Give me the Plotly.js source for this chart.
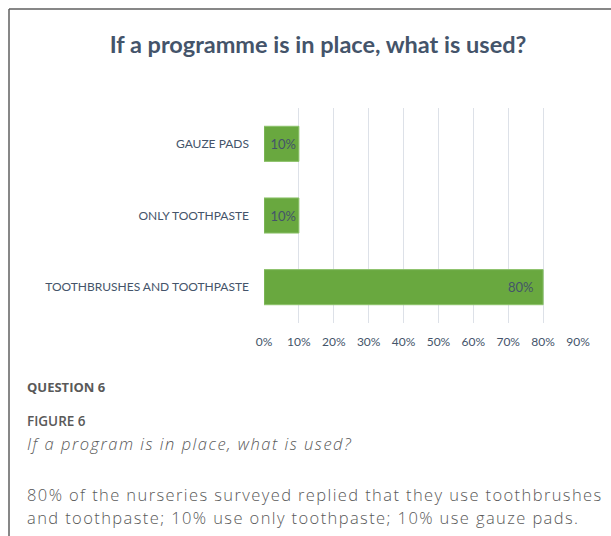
<!DOCTYPE html>
<html>
<head>
<meta charset="utf-8">
<script src="https://cdn.plot.ly/plotly-3.0.1.min.js"></script>
<style>
html,body{margin:0;padding:0;background:#fff;}
#chart{width:611px;height:536px;}
</style>
</head>
<body>
<div id="chart"></div>
<script>
const categories = ['TOOTHBRUSHES AND TOOTHPASTE', 'ONLY TOOTHPASTE', 'GAUZE PADS'];
const values = [0.80, 0.10, 0.10];
const valueLabels = ['80%  ', '10%', '10%'];
const tickValues = [0, 0.1, 0.2, 0.3, 0.4, 0.5, 0.6, 0.7, 0.8, 0.9];
const tickLabels = ['0%', '10%', '20%', '30%', '40%', '50%', '60%', '70%', '80%', '90%'];

const W = 611, H = 536;
const L = 264, R = 33, T = 108, B = 213;
const pw = W - L - R, ph = H - T - B;
const px = x => (x - L) / pw;
const py = y => (H - B - y) / ph;

const textColor = '#44546a';
const capColor = '#595959';

const trace = {
  type: 'bar',
  orientation: 'h',
  y: categories,
  x: values,
  text: valueLabels,
  textposition: 'inside',
  insidetextanchor: 'end',
  textfont: {family: 'Lato, "Open Sans", sans-serif', size: 13, color: textColor},
  marker: {color: '#69a83f', line: {color: '#8cc26a', width: 1}},
  hoverinfo: 'skip'
};

const bodyFont = {family: '"Open Sans", sans-serif', size: 16.5, color: capColor, weight: 300};

const annotations = [
  {text: '<b>QUESTION 6</b>', x: px(25), y: py(387), xanchor: 'left', yanchor: 'middle',
   font: {family: '"Open Sans", sans-serif', size: 13, color: capColor}},
  {text: 'FIGURE 6', x: px(25), y: py(421), xanchor: 'left', yanchor: 'middle',
   font: {family: '"Open Sans", sans-serif', size: 13.5, color: capColor, weight: 600}},
  {text: '<i>If a program is in place, what is used?</i>', x: px(25), y: py(443), xanchor: 'left', yanchor: 'middle',
   font: bodyFont},
  {text: '80% of the nurseries surveyed replied that they use toothbrushes', x: px(25), y: py(494), xanchor: 'left', yanchor: 'middle',
   font: bodyFont},
  {text: 'and toothpaste; 10% use only toothpaste; 10% use gauze pads.', x: px(25), y: py(517), xanchor: 'left', yanchor: 'middle',
   font: bodyFont}
].map(a => Object.assign({xref: 'paper', yref: 'paper', showarrow: false, align: 'left'}, a));

const shapes = [
  {type: 'line', xref: 'paper', yref: 'paper', x0: px(9), x1: px(611), y0: py(9), y1: py(9), line: {color: '#5f5f5f', width: 1.5}},
  {type: 'line', xref: 'paper', yref: 'paper', x0: px(9), x1: px(9), y0: py(9), y1: py(536), line: {color: '#5f5f5f', width: 1.5}}
];

const layout = {
  width: W, height: H,
  margin: {l: L, r: R, t: T, b: B, pad: 0},
  paper_bgcolor: '#fff', plot_bgcolor: '#fff',
  showlegend: false,
  bargap: 0.51,
  title: {
    text: '<b>If a programme is in place, what is used?</b>',
    xref: 'paper', x: px(318), xanchor: 'center',
    yref: 'container', y: 1 - 45 / H, yanchor: 'middle',
    font: {family: 'Lato, "Open Sans", sans-serif', size: 23.5, color: textColor}
  },
  xaxis: {
    range: [0, 0.9],
    tickvals: tickValues, ticktext: tickLabels,
    showgrid: true, gridcolor: '#dde1e8', gridwidth: 1,
    zeroline: false, showline: false, ticks: '',
    ticklabelstandoff: 10,
    tickfont: {family: 'Lato, "Open Sans", sans-serif', size: 12, color: textColor},
    fixedrange: true
  },
  yaxis: {
    categoryorder: 'array', categoryarray: categories,
    range: [-0.5, 2.5],
    showgrid: false, zeroline: false, showline: false, ticks: '',
    ticklabelstandoff: 14,
    tickfont: {family: 'Lato, "Open Sans", sans-serif', size: 12, color: textColor},
    fixedrange: true
  },
  annotations: annotations,
  shapes: shapes
};

Plotly.newPlot('chart', [trace], layout, {displayModeBar: false, staticPlot: true}).then(gd => {
  const texts = gd.querySelectorAll('.annotation-text');
  texts.forEach((t, i) => {
    if (i === 2) t.style.letterSpacing = '1.5px';
    else if (i >= 3) t.style.letterSpacing = '1.4px';
  });
});
</script>
</body>
</html>
